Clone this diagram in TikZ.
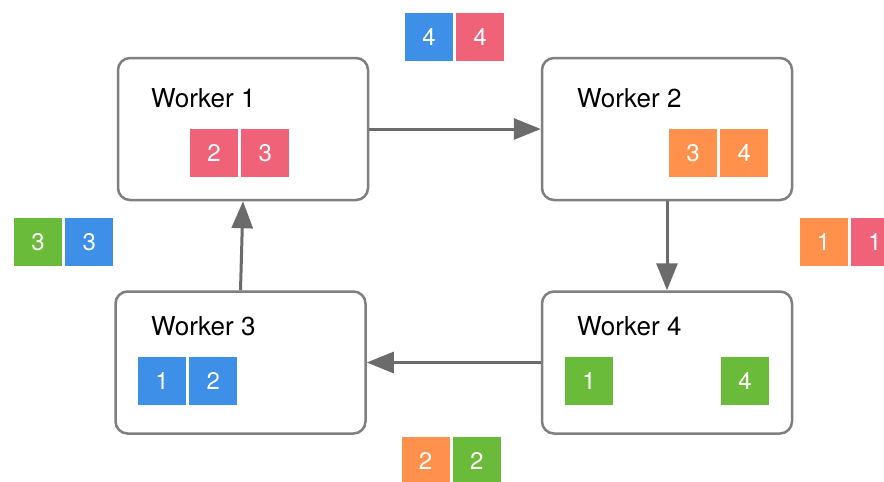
\documentclass[tikz,border=0pt]{standalone}
\usepackage{fontspec}
\setmainfont{TeX Gyre Heros}
\usetikzlibrary{arrows.meta,positioning}

\definecolor{pinkc}{HTML}{F06278}
\definecolor{orangec}{HTML}{FF914D}
\definecolor{bluec}{HTML}{3D8FE8}
\definecolor{greenc}{HTML}{6BBB3A}
\definecolor{edgec}{HTML}{7F7F7F}
\definecolor{arrowc}{HTML}{6B6B6B}

\begin{document}
\begin{tikzpicture}[x=1pt,y=-1pt,
    worker/.style={draw=edgec,line width=2.5pt,rounded corners=12pt,minimum width=250pt,minimum height=142pt,inner sep=0pt},
    wlabel/.style={anchor=base west,inner sep=0pt,font=\fontsize{26}{30}\selectfont},
    chunk/.style={minimum size=48pt,inner sep=0pt,text=white,font=\fontsize{24}{28}\selectfont},
    flow/.style={draw=arrowc,line width=3pt,-{Triangle[length=27pt,width=21pt]}},
    node distance=3pt]
  \useasboundingbox (0,0) rectangle (884,482);

  % workers
  \node[worker] (w1) at (243,129) {};
  \node[worker] (w2) at (667,129) {};
  \node[worker] (w3) at (240.5,362.5) {};
  \node[worker] (w4) at (667,362.5) {};

  \node[wlabel] (l1) at (151,107) {Worker 1};
  \node[wlabel] (l2) at (577,107) {Worker 2};
  \node[wlabel] (l3) at (151,335) {Worker 3};
  \node[wlabel] (l4) at (577,335) {Worker 4};

  % chunks held by each worker
  \node[chunk,fill=pinkc] (a1) at (214,153) {2};
  \node[chunk,fill=pinkc] (a2) [right=of a1] {3};
  \node[chunk,fill=orangec] (b1) at (693,153) {3};
  \node[chunk,fill=orangec] (b2) [right=of b1] {4};
  \node[chunk,fill=bluec] (c1) at (162,381) {1};
  \node[chunk,fill=bluec] (c2) [right=of c1] {2};
  \node[chunk,fill=greenc] (d1) at (589,381) {1};
  \node[chunk,fill=greenc] (d2) at (745,381) {4};

  % chunks in flight
  \node[chunk,fill=bluec] (t1) at (429,37) {4};
  \node[chunk,fill=pinkc] (t2) [right=of t1] {4};
  \node[chunk,fill=orangec] (r1) at (823.5,242) {1};
  \node[chunk,fill=pinkc] (r2) [right=of r1] {1};
  \node[chunk,fill=orangec] (s1) at (425.5,461) {2};
  \node[chunk,fill=greenc] (s2) [right=of s1] {2};
  \node[chunk,fill=greenc] (g1) at (38,242) {3};
  \node[chunk,fill=bluec] (g2) [right=of g1] {3};

  % ring
  \draw[flow] (w1.east) -- (w2.west);
  \draw[flow] (w2.south) -- (w4.north);
  \draw[flow] (w4.west) -- (w3.east);
  \draw[flow] (w3.north) -- (w1.south);
\end{tikzpicture}
\end{document}
